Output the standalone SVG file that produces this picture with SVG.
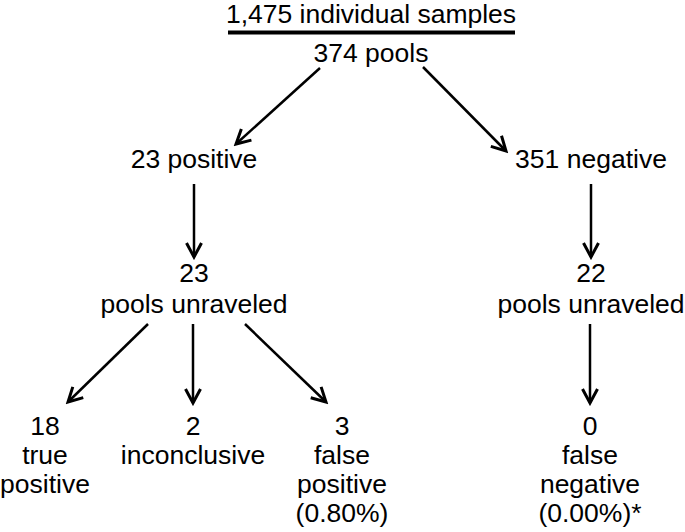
<svg xmlns="http://www.w3.org/2000/svg" width="685" height="532" viewBox="0 0 685 532">
<defs>
<marker id="ah" viewBox="0 0 20 20" refX="17" refY="10" markerWidth="20" markerHeight="20" markerUnits="userSpaceOnUse" orient="auto">
<path d="M3,2.5 L17,10 L3,17.5" fill="none" stroke="#000" stroke-width="3" stroke-linejoin="miter"/>
</marker>
<style>
text{font-family:"Liberation Sans",Arial,sans-serif;font-size:26.5px;fill:#000;text-anchor:middle}
.c line{stroke:#000;stroke-width:2.5;marker-end:url(#ah)}
</style>
</defs>
<rect width="685" height="532" fill="#fff"/>
<g id="root">
<text x="371" y="23">1,475 individual samples</text>
<line x1="228" y1="32.5" x2="515" y2="32.5" stroke="#000" stroke-width="4"/>
<text x="371" y="61.5">374 pools</text>
</g>
<g id="pos"><text x="194" y="168">23 positive</text></g>
<g id="neg"><text x="591" y="168">351 negative</text></g>
<g id="posun"><text x="194" y="282">23</text><text x="194" y="313">pools unraveled</text></g>
<g id="negun"><text x="591" y="282">22</text><text x="591" y="313">pools unraveled</text></g>
<g id="tp"><text x="45" y="435">18</text><text x="45" y="464">true</text><text x="45" y="493">positive</text></g>
<g id="inc"><text x="193" y="435">2</text><text x="193" y="464">inconclusive</text></g>
<g id="fp"><text x="342" y="435">3</text><text x="342" y="464">false</text><text x="342" y="493">positive</text><text x="342" y="522">(0.80%)</text></g>
<g id="fn"><text x="590" y="435">0</text><text x="590" y="464">false</text><text x="590" y="493">negative</text><text x="590" y="522">(0.00%)*</text></g>
<g class="c" id="connectors">
<line x1="320" y1="68" x2="236" y2="144"/>
<line x1="423" y1="67" x2="506" y2="151"/>
<line x1="194" y1="184" x2="194" y2="257"/>
<line x1="591" y1="184" x2="591" y2="257"/>
<line x1="148" y1="324" x2="68" y2="402"/>
<line x1="193" y1="324" x2="193" y2="403"/>
<line x1="245" y1="324" x2="326" y2="402"/>
<line x1="590" y1="324" x2="590" y2="403"/>
</g>
</svg>
